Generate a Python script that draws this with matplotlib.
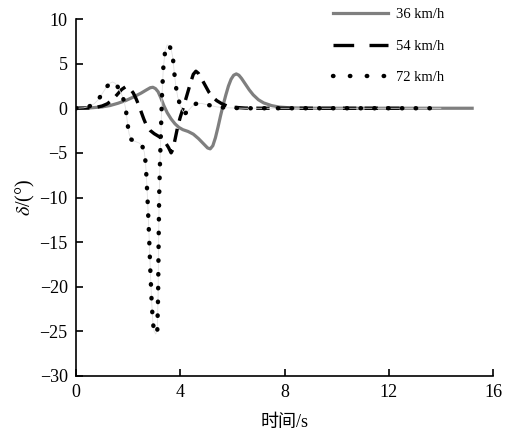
import numpy as np
import matplotlib
matplotlib.use("Agg")
import matplotlib.pyplot as plt
from matplotlib.lines import Line2D

plt.rcParams['font.family'] = ['Liberation Serif', 'Noto Sans CJK SC']
plt.rcParams['mathtext.fontset'] = 'stix'

# 36 km/h
t36 = [0, 0.5, 1.0, 1.3, 1.6, 1.9, 2.2, 2.5, 2.7, 2.85, 2.95, 3.05, 3.15, 3.25, 3.37,
       3.5, 3.65, 3.8, 3.95, 4.1, 4.3, 4.5, 4.7, 4.9, 5.05, 5.15, 5.25, 5.35, 5.45,
       5.55, 5.65, 5.75, 5.85, 5.95, 6.05, 6.15, 6.25, 6.35, 6.5, 6.65, 6.8, 7.0,
       7.2, 7.5, 7.8, 8.2, 9.0, 12.0, 15.2]
d36 = [0, 0.03, 0.15, 0.3, 0.55, 0.85, 1.25, 1.7, 2.05, 2.3, 2.35, 2.2, 1.85, 1.2, 0.3,
       -0.5, -1.2, -1.75, -2.15, -2.4, -2.6, -2.9, -3.4, -4.0, -4.45, -4.55, -4.2, -3.3, -2.1,
       -0.8, 0.4, 1.5, 2.5, 3.25, 3.7, 3.85, 3.7, 3.35, 2.7, 2.05, 1.5, 0.95,
       0.6, 0.3, 0.13, 0.05, 0.0, 0.0, 0.0]

# 54 km/h
t54 = [0, 0.5, 0.8, 1.0, 1.2, 1.4, 1.6, 1.75, 1.9, 2.0, 2.1, 2.2, 2.3, 2.4, 2.5,
       2.6, 2.7, 2.85, 3.0, 3.2, 3.4, 3.55, 3.65, 3.72, 3.8, 3.9, 4.0, 4.1, 4.2,
       4.3, 4.4, 4.5, 4.6, 4.7, 4.8, 4.95, 5.1, 5.25, 5.4, 5.6, 5.8, 6.0, 6.5,
       7.0, 9.0, 12.5]
d54 = [0, 0.03, 0.12, 0.25, 0.5, 0.95, 1.6, 2.1, 2.4, 2.35, 2.1, 1.7, 1.1, 0.4, -0.4,
       -1.2, -1.9, -2.5, -2.85, -3.2, -3.7, -4.4, -5.0, -4.6, -3.5, -2.1, -1.0, -0.1, 0.9,
       1.9, 2.9, 3.8, 4.15, 3.9, 3.4, 2.6, 1.8, 1.25, 0.85, 0.5, 0.25, 0.12, 0.02,
       0.0, 0.0, 0.0]

# 72 km/h
t72 = [0, 0.3, 0.5, 0.7, 0.85, 1.0, 1.15, 1.3, 1.4, 1.5, 1.6, 1.7, 1.79, 1.86, 1.92,
       1.98, 2.04, 2.12, 2.25, 2.43, 2.55, 2.62, 2.66, 2.7, 2.75, 2.8, 2.85, 2.9, 2.95,
       3.0, 3.06, 3.12, 3.15, 3.17, 3.19, 3.22, 3.26, 3.3, 3.35, 3.42, 3.5, 3.58, 3.66,
       3.72, 3.77, 3.83, 3.9, 4.0, 4.09, 4.2, 4.3, 4.45, 4.6, 4.8, 5.1, 5.4, 5.8,
       6.5, 9.0, 14.0]
d72 = [0, 0.05, 0.2, 0.5, 0.95, 1.6, 2.3, 2.8, 2.95, 2.8, 2.4, 1.85, 1.3, 0.6, -0.3,
       -1.8, -2.9, -3.5, -3.7, -3.9, -4.3, -4.9, -5.8, -7.5, -10.5, -14.0, -18.0, -21.5, -24.0,
       -25.0, -25.3, -24.8, -21.0, -15.0, -10.0, -6.4, -2.5, 1.5, 4.5, 6.4, 7.1, 7.0, 6.5,
       5.6, 4.0, 2.5, 1.3, 0.3, -0.3, -0.55, -0.3, 0.2, 0.5, 0.55, 0.35, 0.15, 0.05,
       0.0, 0.0, 0.0]

labels = ['36 km/h', '54 km/h', '72 km/h']

fig = plt.figure(figsize=(5.09, 4.33), dpi=100)
ax = fig.add_axes([76/509, 1-376/433, 417/509, 357/433])

ax.plot(t36, d36, color='#7f7f7f', lw=2.3)
ax.plot(t54, d54, color='black', lw=2.4, linestyle=(0, (4, 2.5)))
ax.plot(t72, d72, color='#e0e0e0', lw=0.6)
ax.plot(t72, d72, color='black', lw=3.2, linestyle=(0, (0.1, 3.0)),
        dash_capstyle='round')

# legend handles with the longer dash pattern seen in the key
handles = [
    Line2D([], [], color='#7f7f7f', lw=2.3),
    Line2D([], [], color='black', lw=2.4, linestyle=(0, (6.2, 4.6))),
    Line2D([], [], color='black', lw=3.2, linestyle=(0, (0.1, 3.7)), dash_capstyle='round'),
]

ax.set_xlim(0, 16)
ax.set_ylim(-30, 10)
ax.set_xticks([0, 4, 8, 12, 16])
ax.set_yticks(np.arange(-30, 11, 5))
ax.set_yticklabels(['\u221230', '\u221225', '\u221220', '\u221215', '\u221210', '\u22125', '0', '5', '10'])
for s in ['top', 'right']:
    ax.spines[s].set_visible(False)
for s in ['left', 'bottom']:
    ax.spines[s].set_linewidth(1.2)
ax.tick_params(direction='in', length=5, width=1.2, labelsize=13, pad=6)

ax.set_xlabel('时间/s', fontsize=13, labelpad=9)
ax.set_ylabel(r'$\delta$/(°)', fontsize=14.5, labelpad=2)

fig.legend(handles, labels, loc='upper left', bbox_to_anchor=(333/509, 1-8/433),
           frameon=False, fontsize=10.5, handlelength=3.8, handletextpad=0.5,
           labelspacing=1.25, borderpad=0, borderaxespad=0)

fig.savefig('out.png', dpi=100)
